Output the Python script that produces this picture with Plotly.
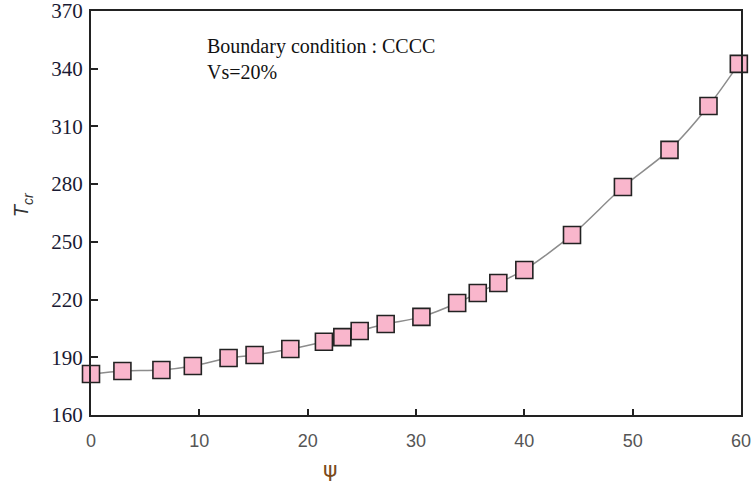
import plotly.graph_objects as go

psi = [0.0, 2.9, 6.5, 9.4, 12.7, 15.1, 18.4, 21.5, 23.2, 24.8, 27.2, 30.5,
       33.8, 35.7, 37.6, 40.0, 44.4, 49.1, 53.4, 57.0, 59.8]
tcr = [181.3, 182.9, 183.4, 185.5, 189.6, 191.2, 194.3, 198.1, 200.5, 203.7, 207.3, 211.0,
       218.2, 223.4, 228.6, 235.4, 253.6, 278.5, 297.8, 320.6, 342.5]

x_ticks = [0, 10, 20, 30, 40, 50, 60]
y_ticks = [160, 190, 220, 250, 280, 310, 340, 370]

fig = go.Figure()
fig.add_trace(go.Scatter(
    x=psi, y=tcr, mode="lines+markers",
    line=dict(color="#8c8c8c", width=1.5, shape="spline", smoothing=0.8),
    marker=dict(symbol="square", size=17, color="#F9B6CC",
                line=dict(color="#222222", width=1.6)),
    showlegend=False, cliponaxis=False,
))

fig.add_annotation(
    x=0.175, y=0.945, xref="paper", yref="paper", xanchor="left", yanchor="top",
    align="left", showarrow=False,
    text="Boundary condition : CCCC<br>Vs=20%",
    font=dict(family="Liberation Serif", size=20, color="#111111"),
)
# x-axis title (psi)
fig.add_annotation(
    x=0.368, y=-0.135, xref="paper", yref="paper", xanchor="center", yanchor="middle",
    showarrow=False, text="ψ",
    font=dict(family="DejaVu Sans", size=22, color="#7a4a1a"),
)
# y-axis title
fig.add_annotation(
    x=-0.104, y=0.52, xref="paper", yref="paper", xanchor="center", yanchor="middle",
    showarrow=False, textangle=-90, text="<i>T</i><sub><i>cr</i></sub>",
    font=dict(family="Liberation Sans", size=20, color="#333333"),
)

fig.update_layout(
    width=751, height=491,
    margin=dict(l=91, r=10, t=11, b=76),
    paper_bgcolor="white", plot_bgcolor="white",
    xaxis=dict(
        range=[0, 60], tickvals=x_ticks, ticks="inside", ticklen=6, tickwidth=1.5,
        tickcolor="#222", showline=True, linecolor="#222", linewidth=2, mirror=True,
        showgrid=False, zeroline=False, automargin=False, ticklabelstandoff=8,
        ticklabeloverflow="allow",
        tickfont=dict(family="Liberation Sans", size=18, color="#555555"),
    ),
    yaxis=dict(
        range=[160, 370], tickvals=y_ticks, ticks="inside", ticklen=7, tickwidth=2,
        tickcolor="#222", showline=True, linecolor="#222", linewidth=2, mirror=True,
        showgrid=False, zeroline=False, automargin=False, ticklabelstandoff=2,
        ticklabeloverflow="allow",
        tickfont=dict(family="Liberation Serif", size=21, color="#1a1a33"),
    ),
)

fig.write_html("out.html")
